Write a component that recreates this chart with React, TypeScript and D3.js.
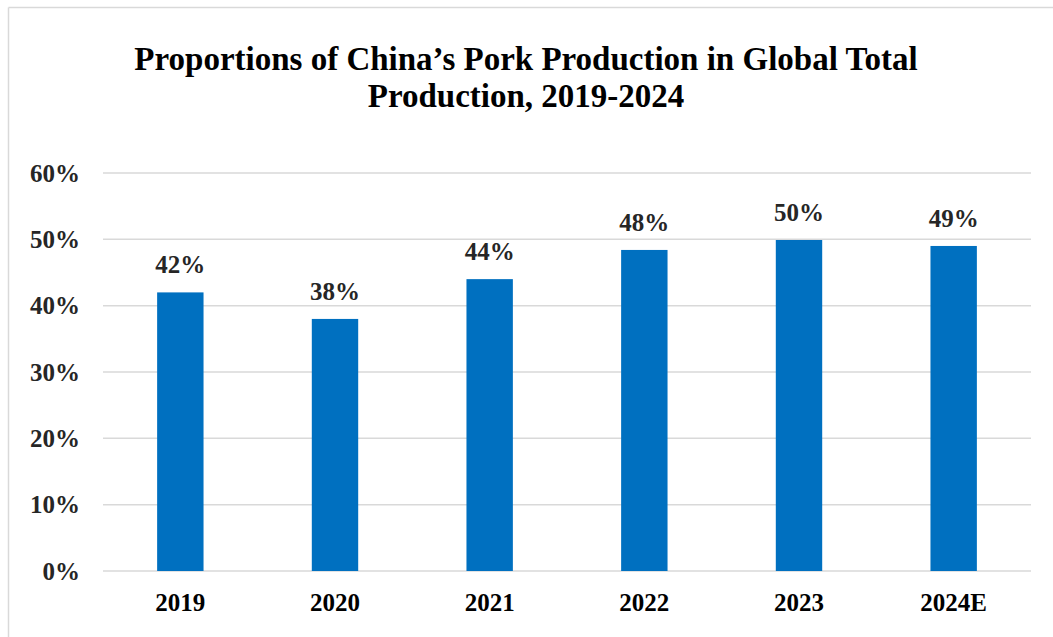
import React from "react";
import * as d3 from "d3";

const categories = ["2019", "2020", "2021", "2022", "2023", "2024E"];
const values = [42, 38, 44, 48.4, 49.9, 49];
const valueLabels = ["42%", "38%", "44%", "48%", "50%", "49%"];
const yTicks = [0, 10, 20, 30, 40, 50, 60];
const titleLines = ["Proportions of China\u2019s Pork Production in Global Total", "Production, 2019-2024"];

const W = 1053;
const H = 637;
const FONT = "'Liberation Serif', 'Times New Roman', serif";

export default function App() {
  const x = d3
    .scaleBand<string>()
    .domain(categories)
    .range([103, 1031])
    .paddingInner(0.7)
    .paddingOuter(0.35);
  const y = d3.scaleLinear().domain([0, 60]).range([571, 173]);

  return (
    <svg
      width={W}
      height={H}
      style={{ position: "absolute", left: 0, top: 0, background: "#fff" }}
    >
      <rect x={0} y={0} width={W} height={H} fill="#fff" />
      <line x1={8.5} y1={7.5} x2={W} y2={7.5} stroke="#d9d9d9" strokeWidth={1.5} />
      <line x1={8.5} y1={7.5} x2={8.5} y2={H} stroke="#d9d9d9" strokeWidth={1.5} />
      {titleLines.map((t, i) => (
        <text
          key={i}
          x={526}
          y={70 + i * 37}
          textAnchor="middle"
          fontFamily={FONT}
          fontWeight="bold"
          fontSize={33}
          fill="#000"
        >
          {t}
        </text>
      ))}
      {yTicks.map((t) => (
        <g key={t}>
          <line
            x1={103}
            x2={1031}
            y1={y(t)}
            y2={y(t)}
            stroke="#d9d9d9"
            strokeWidth={1.5}
          />
          <text
            x={80}
            y={y(t) + 8.5}
            textAnchor="end"
            fontFamily={FONT}
            fontWeight="bold"
            fontSize={25}
            fill="#262626"
          >
            {t}%
          </text>
        </g>
      ))}
      {categories.map((c, i) => {
        const bx = x(c)!;
        const bw = x.bandwidth();
        const cx = bx + bw / 2;
        return (
          <g key={c}>
            <rect
              x={bx}
              y={y(values[i])}
              width={bw}
              height={y(0) - y(values[i])}
              fill="#0070C0"
            />
            <text
              x={cx}
              y={y(values[i]) - 19}
              textAnchor="middle"
              fontFamily={FONT}
              fontWeight="bold"
              fontSize={25}
              fill="#262626"
            >
              {valueLabels[i]}
            </text>
            <text
              x={cx}
              y={611}
              textAnchor="middle"
              fontFamily={FONT}
              fontWeight="bold"
              fontSize={25}
              fill="#000"
            >
              {c}
            </text>
          </g>
        );
      })}
    </svg>
  );
}
